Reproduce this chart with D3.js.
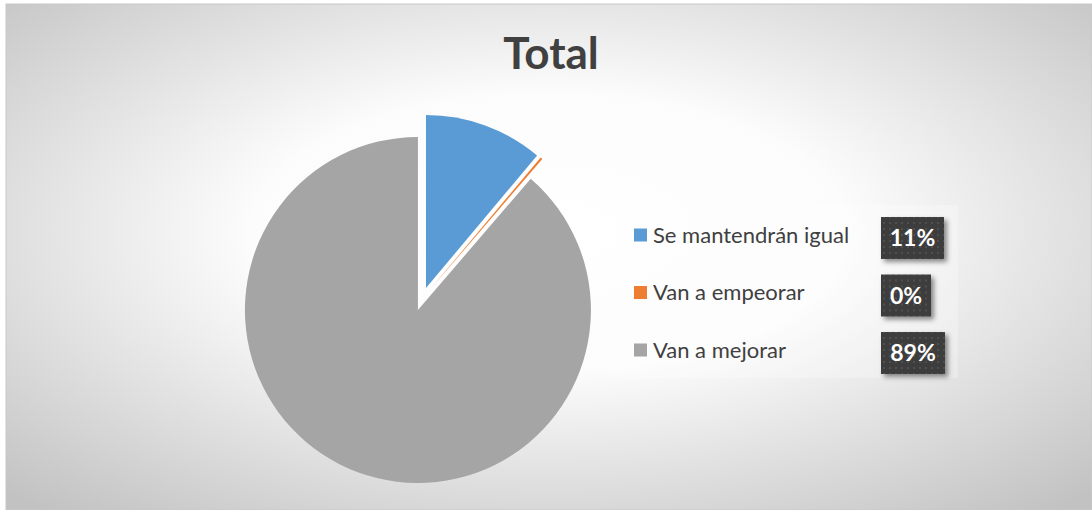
<!DOCTYPE html>
<html>
<head>
<meta charset="utf-8">
<script src="https://cdnjs.cloudflare.com/ajax/libs/d3/7.8.5/d3.min.js"></script>
<style>
  body { margin: 0; background: #fff; }
  svg { display: block; }
  text { font-family: Lato, "Open Sans", sans-serif; }
</style>
</head>
<body>
<div id="chart"></div>
<script>
var W = 1092, H = 510;

// data
var categories = ["Se mantendrán igual", "Van a empeorar", "Van a mejorar"];
var values = [11.1, 0.2, 88.7];
var labels = ["11%", "0%", "89%"];
var colors = ["#5b9bd5", "#ed7d31", "#a5a5a5"];

var svg = d3.select("#chart")
    .append("svg")
    .attr("width", W)
    .attr("height", H);

var defs = svg.append("defs");

// background gradient
var grad = defs.append("radialGradient")
    .attr("id", "bg")
    .attr("cx", "0.5").attr("cy", "0.45")
    .attr("r", "0.72");
grad.append("stop").attr("offset", "0").attr("stop-color", "#ffffff");
grad.append("stop").attr("offset", "0.38").attr("stop-color", "#fcfcfc");
grad.append("stop").attr("offset", "1").attr("stop-color", "#c2c2c2");

// dotted pattern for data labels
var pat = defs.append("pattern")
    .attr("id", "dots")
    .attr("width", 6).attr("height", 6)
    .attr("patternUnits", "userSpaceOnUse");
pat.append("rect").attr("width", 6).attr("height", 6).attr("fill", "#3d3d3d");
pat.append("rect").attr("x", 2).attr("y", 2).attr("width", 2).attr("height", 2).attr("fill", "#4f4f4f");

var shadow = defs.append("filter").attr("id", "shadow")
    .attr("x", "-20%").attr("y", "-20%").attr("width", "150%").attr("height", "160%");
shadow.append("feDropShadow")
    .attr("dx", 3).attr("dy", 3).attr("stdDeviation", 2.5)
    .attr("flood-color", "#000").attr("flood-opacity", 0.45);

// chart area
svg.append("rect")
    .attr("x", 6).attr("y", 4)
    .attr("width", W - 6).attr("height", H - 4)
    .attr("fill", "url(#bg)")
    .attr("stroke", "#c8c8c8")
    .attr("stroke-width", 1);

// title
svg.append("text")
    .attr("x", 551).attr("y", 69)
    .attr("text-anchor", "middle")
    .attr("font-size", 44)
    .attr("font-weight", "bold")
    .attr("fill", "#404040")
    .text("Total");

// pie
var cx = 422, cy = 299, radius = 173, explode = 11.7;

var pie = d3.pie().sort(null).value(function(d) { return d; });
var arc = d3.arc().innerRadius(0).outerRadius(radius);

svg.append("g").selectAll("path")
    .data(pie(values))
    .enter()
    .append("path")
    .attr("d", arc)
    .attr("fill", function(d, i) { return colors[i]; })
    .attr("transform", function(d) {
        var a = (d.startAngle + d.endAngle) / 2;
        var x = cx + explode * Math.sin(a);
        var y = cy - explode * Math.cos(a);
        return "translate(" + x + "," + y + ")";
    });

// legend
var legendX = 634, rowY0 = 235, rowGap = 57.5;

svg.append("rect")
    .attr("x", 608).attr("y", 205)
    .attr("width", 350).attr("height", 173)
    .attr("fill", "#ffffff")
    .attr("fill-opacity", 0.25);

var rows = svg.append("g").selectAll("g")
    .data(categories)
    .enter()
    .append("g")
    .attr("transform", function(d, i) { return "translate(0," + (rowY0 + i * rowGap) + ")"; });

rows.append("rect")
    .attr("x", legendX).attr("y", -6.5)
    .attr("width", 13).attr("height", 13)
    .attr("fill", function(d, i) { return colors[i]; });

rows.append("text")
    .attr("x", 653).attr("y", 0)
    .attr("dy", "0.35em")
    .attr("font-size", 22)
    .attr("fill", "#404040")
    .text(function(d) { return d; });

// data label boxes
var boxW = [63, 50, 64];
var boxes = svg.append("g").selectAll("g")
    .data(labels)
    .enter()
    .append("g")
    .attr("transform", function(d, i) { return "translate(881," + (rowY0 + 3 + i * rowGap) + ")"; });

boxes.append("rect")
    .attr("x", 0).attr("y", -21)
    .attr("width", function(d, i) { return boxW[i]; })
    .attr("height", 42)
    .attr("fill", "url(#dots)")
    .attr("filter", "url(#shadow)");

boxes.append("text")
    .attr("x", function(d, i) { return boxW[i] / 2; })
    .attr("y", 0)
    .attr("dy", "0.36em")
    .attr("text-anchor", "middle")
    .attr("font-size", 23)
    .attr("font-weight", "bold")
    .attr("fill", "#ffffff")
    .text(function(d) { return d; });
</script>
</body>
</html>
